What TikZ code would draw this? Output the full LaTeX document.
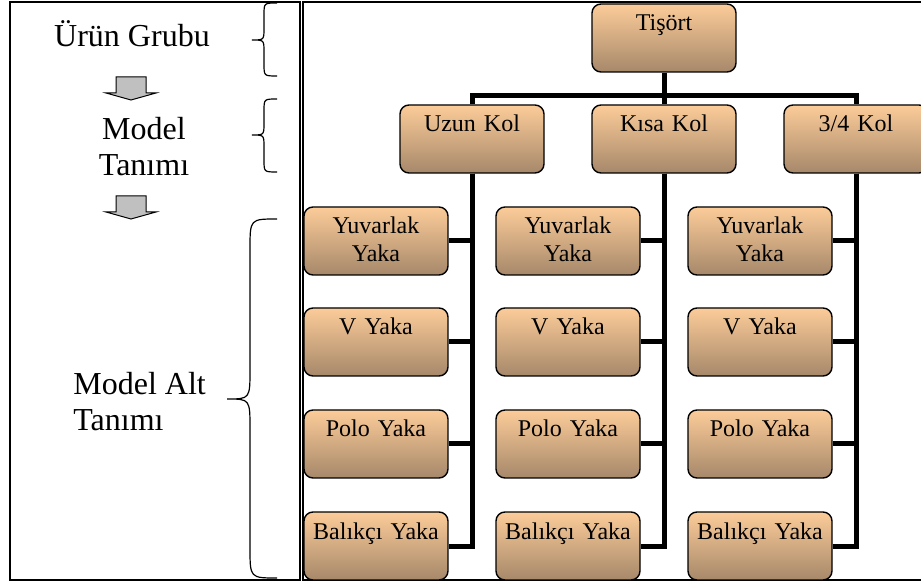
\documentclass[tikz,border=0pt]{standalone}
\usepackage{fontspec}
\setmainfont{Liberation Serif}
\usepackage{xcolor}
\usetikzlibrary{positioning}
\usetikzlibrary{calc}

\definecolor{kutuust}{RGB}{252,204,153}
\definecolor{kutualt}{RGB}{166,136,106}
\definecolor{okgri}{RGB}{192,192,192}

\tikzset{
  kutu/.style={draw, line width=0.7pt, rounded corners=4.5pt, top color=kutuust, bottom color=kutualt,
    inner sep=0pt, text width=72pt, align=center, text height=13.5pt, text depth=20.5pt,
    font=\fontsize{12}{13.8}\selectfont},
  bag/.style={line width=2.5pt},
  ok/.style={draw, line width=0.5pt, fill=okgri},
  baslik/.style={inner sep=0pt, font=\fontsize{16}{18.4}\selectfont},
  parantez/.style={line width=0.6pt},
}

\begin{document}
\begin{tikzpicture}[x=0.5pt, y=-0.5pt]
\useasboundingbox (0,0) rectangle (921,582);

% frames
\draw[line width=0.6pt] (10,2) rectangle (300,580);
\draw[line width=0.6pt] (303,2) rectangle (930,580);

% left side
\node[baslik, anchor=base] (urun) at (132,47) {Ürün Grubu};
\node[baslik, align=center, anchor=base] (model) at (144,176) {Model\\Tanımı};
\node[baslik, align=left, anchor=base west] (altmodel) at (73,431) {Model Alt\\Tanımı};

\foreach \y in {77,196}
  \draw[ok] (116,\y) -- ++(30,0) -- ++(0,16) -- ++(10,0) -- ++(-25,7) -- ++(-25,-7) -- ++(10,0) -- cycle;

\foreach \bas/\orta/\son/\dik/\uc/\k in {3/40/76/264/252/12, 99/135/172/264/252/12, 219/399/578/250/227/30}
  \draw[parantez] (277,\bas) .. controls (\dik,\bas) .. (\dik,\bas+\k) -- (\dik,\orta-\k)
    .. controls (\dik,\orta) .. (\uc,\orta) .. controls (\dik,\orta) .. (\dik,\orta+\k)
    -- (\dik,\son-\k) .. controls (\dik,\son) .. (277,\son);

% tree
\node[kutu] (tisort) at (664,38) {Tişört};
\node[kutu] (uzun) at (472,139) {Uzun Kol};
\node[kutu] (kisa) at (664,139) {Kısa Kol};
\node[kutu] (ucdort) at (856,139) {3/4 Kol};

\draw[bag] (tisort.south) -- ++(0,23) coordinate (dal);
\draw[bag] (uzun.north) |- (dal) -| (ucdort.north);
\draw[bag] (dal) -- (kisa.north);

\foreach \ust/\x in {uzun/376, kisa/568, ucdort/760} {
  \node[kutu] (\ust-yuvarlak) at (\x,241) {Yuvarlak\\Yaka};
  \node[kutu] (\ust-v) at (\x,342) {V Yaka};
  \node[kutu] (\ust-polo) at (\x,444) {Polo Yaka};
  \node[kutu] (\ust-balikci) at (\x,546) {Balıkçı Yaka};
  \foreach \alt in {yuvarlak, v, polo, balikci}
    \draw[bag] (\ust.south) |- (\ust-\alt.east);
}

\end{tikzpicture}
\end{document}
